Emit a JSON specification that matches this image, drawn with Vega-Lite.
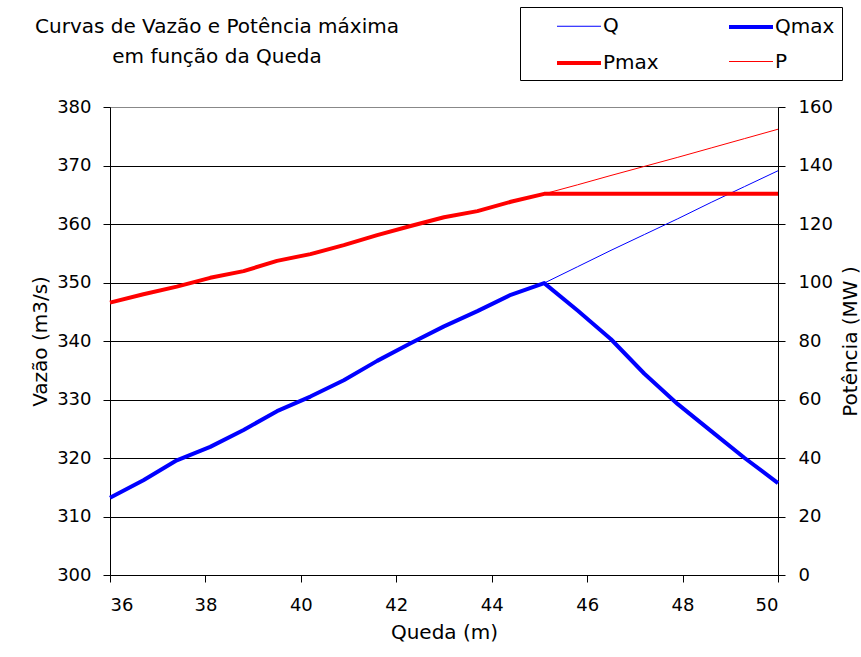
{
  "$schema": "https://vega.github.io/schema/vega-lite/v6.json",
  "width": 668,
  "height": 468,
  "autosize": {"type": "none"},
  "padding": {"left": 110, "top": 107, "right": 83, "bottom": 82},
  "background": "white",
  "config": {
    "font": "DejaVu Sans",
    "view": {"stroke": "#888888", "strokeWidth": 1},
    "axis": {
      "labelFont": "DejaVu Sans", "labelFontSize": 18, "labelColor": "black",
      "titleFont": "DejaVu Sans", "titleFontSize": 20, "titleFontWeight": "normal", "titleColor": "black",
      "domainColor": "black", "tickColor": "black", "tickSize": 7
    },
    "legend": {
      "labelFont": "DejaVu Sans", "labelFontSize": 20, "labelColor": "black"
    }
  },
  "title": {
    "text": ["Curvas de Vazão e Potência máxima", "em função da Queda"],
    "anchor": "start", "frame": "group", "align": "center", "dx": 107, "dy": 60,
    "font": "DejaVu Sans", "fontSize": 20, "fontWeight": "normal", "color": "black",
    "lineHeight": 30, "offset": 0
  },
  "data": {"values": [
    {"x": 36.0, "s": "Qmax", "v": 313.2}, {"x": 36.7, "s": "Qmax", "v": 316.2}, {"x": 37.4, "s": "Qmax", "v": 319.6},
    {"x": 38.1, "s": "Qmax", "v": 321.9}, {"x": 38.8, "s": "Qmax", "v": 324.8}, {"x": 39.5, "s": "Qmax", "v": 328.0},
    {"x": 40.2, "s": "Qmax", "v": 330.5}, {"x": 40.9, "s": "Qmax", "v": 333.3}, {"x": 41.6, "s": "Qmax", "v": 336.6},
    {"x": 42.3, "s": "Qmax", "v": 339.6}, {"x": 43.0, "s": "Qmax", "v": 342.5}, {"x": 43.7, "s": "Qmax", "v": 345.1},
    {"x": 44.4, "s": "Qmax", "v": 347.9}, {"x": 45.1, "s": "Qmax", "v": 349.9}, {"x": 45.8, "s": "Qmax", "v": 345.2},
    {"x": 46.5, "s": "Qmax", "v": 340.3}, {"x": 47.2, "s": "Qmax", "v": 334.4}, {"x": 47.9, "s": "Qmax", "v": 329.2},
    {"x": 48.6, "s": "Qmax", "v": 324.6}, {"x": 49.3, "s": "Qmax", "v": 320.0}, {"x": 50.0, "s": "Qmax", "v": 315.7},

    {"x": 36.0, "s": "Q", "v": 313.2}, {"x": 36.7, "s": "Q", "v": 316.2}, {"x": 37.4, "s": "Q", "v": 319.6},
    {"x": 38.1, "s": "Q", "v": 321.9}, {"x": 38.8, "s": "Q", "v": 324.8}, {"x": 39.5, "s": "Q", "v": 328.0},
    {"x": 40.2, "s": "Q", "v": 330.5}, {"x": 40.9, "s": "Q", "v": 333.3}, {"x": 41.6, "s": "Q", "v": 336.6},
    {"x": 42.3, "s": "Q", "v": 339.6}, {"x": 43.0, "s": "Q", "v": 342.5}, {"x": 43.7, "s": "Q", "v": 345.1},
    {"x": 44.4, "s": "Q", "v": 347.9}, {"x": 45.1, "s": "Q", "v": 349.9}, {"x": 45.8, "s": "Q", "v": 352.7},
    {"x": 46.5, "s": "Q", "v": 355.5}, {"x": 47.2, "s": "Q", "v": 358.2}, {"x": 47.9, "s": "Q", "v": 360.9},
    {"x": 48.6, "s": "Q", "v": 363.7}, {"x": 49.3, "s": "Q", "v": 366.4}, {"x": 50.0, "s": "Q", "v": 369.1},

    {"x": 36.0, "s": "Pmax", "v": 93.1}, {"x": 36.7, "s": "Pmax", "v": 96.0}, {"x": 37.4, "s": "Pmax", "v": 98.6},
    {"x": 38.1, "s": "Pmax", "v": 101.6}, {"x": 38.8, "s": "Pmax", "v": 103.9}, {"x": 39.5, "s": "Pmax", "v": 107.4},
    {"x": 40.2, "s": "Pmax", "v": 109.7}, {"x": 40.9, "s": "Pmax", "v": 112.8}, {"x": 41.6, "s": "Pmax", "v": 116.2},
    {"x": 42.3, "s": "Pmax", "v": 119.3}, {"x": 43.0, "s": "Pmax", "v": 122.3}, {"x": 43.7, "s": "Pmax", "v": 124.4},
    {"x": 44.4, "s": "Pmax", "v": 127.6}, {"x": 45.1, "s": "Pmax", "v": 130.3}, {"x": 45.8, "s": "Pmax", "v": 130.3},
    {"x": 46.5, "s": "Pmax", "v": 130.3}, {"x": 47.2, "s": "Pmax", "v": 130.3}, {"x": 47.9, "s": "Pmax", "v": 130.3},
    {"x": 48.6, "s": "Pmax", "v": 130.3}, {"x": 49.3, "s": "Pmax", "v": 130.3}, {"x": 50.0, "s": "Pmax", "v": 130.3},

    {"x": 36.0, "s": "P", "v": 93.1}, {"x": 36.7, "s": "P", "v": 96.0}, {"x": 37.4, "s": "P", "v": 98.6},
    {"x": 38.1, "s": "P", "v": 101.6}, {"x": 38.8, "s": "P", "v": 103.9}, {"x": 39.5, "s": "P", "v": 107.4},
    {"x": 40.2, "s": "P", "v": 109.7}, {"x": 40.9, "s": "P", "v": 112.8}, {"x": 41.6, "s": "P", "v": 116.2},
    {"x": 42.3, "s": "P", "v": 119.3}, {"x": 43.0, "s": "P", "v": 122.3}, {"x": 43.7, "s": "P", "v": 124.4},
    {"x": 44.4, "s": "P", "v": 127.6}, {"x": 45.1, "s": "P", "v": 130.3}, {"x": 45.8, "s": "P", "v": 133.4},
    {"x": 46.5, "s": "P", "v": 136.6}, {"x": 47.2, "s": "P", "v": 139.7}, {"x": 47.9, "s": "P", "v": 142.8},
    {"x": 48.6, "s": "P", "v": 146.0}, {"x": 49.3, "s": "P", "v": 149.2}, {"x": 50.0, "s": "P", "v": 152.4}
  ]},
  "encoding": {
    "x": {
      "field": "x", "type": "quantitative",
      "scale": {"domain": [36, 50], "nice": false, "zero": false},
      "axis": {"values": [36, 38, 40, 42, 44, 46, 48, 50], "grid": false, "title": "Queda (m)",
               "labelPadding": 14, "titlePadding": 8}
    },
    "color": {
      "field": "s", "type": "nominal",
      "scale": {"domain": ["Q", "Pmax", "Qmax", "P"], "range": ["#0000ff", "#ff0000", "#0000ff", "#ff0000"]},
      "legend": {
        "title": null, "orient": "none", "legendX": 410, "legendY": -100,
        "columns": 2, "columnPadding": 40, "rowPadding": 13,
        "symbolType": "M-2,0H2", "symbolSize": 484, "symbolOffset": 39, "labelOffset": 11,
        "strokeColor": "black", "fillColor": "white", "padding": 7
      }
    },
    "strokeWidth": {
      "field": "s", "type": "nominal",
      "scale": {"type": "ordinal", "domain": ["Q", "Pmax", "Qmax", "P"], "range": [1, 4, 4, 1]},
      "legend": {
        "title": null, "orient": "none", "legendX": 410, "legendY": -100,
        "columns": 2, "columnPadding": 40, "rowPadding": 13,
        "symbolType": "M-2,0H2", "symbolSize": 484, "symbolOffset": 39, "labelOffset": 11,
        "strokeColor": "black", "fillColor": "white", "padding": 7
      }
    }
  },
  "layer": [
    {
      "transform": [{"filter": "datum.s === 'Qmax' || datum.s === 'Q'"}],
      "mark": {"type": "line", "strokeJoin": "round"},
      "encoding": {
        "y": {
          "field": "v", "type": "quantitative",
          "scale": {"domain": [300, 380], "nice": false, "zero": false},
          "axis": {
            "orient": "left", "values": [300, 310, 320, 330, 340, 350, 360, 370, 380],
            "title": "Vazão (m3/s)", "labelPadding": 12, "titlePadding": 6,
            "grid": true, "gridWidth": 1, "gridOpacity": 1,
            "gridColor": {"condition": {"test": "datum.value === 380", "value": "#888888"}, "value": "black"}
          }
        }
      }
    },
    {
      "transform": [{"filter": "datum.s === 'Pmax' || datum.s === 'P'"}],
      "mark": {"type": "line", "strokeJoin": "round"},
      "encoding": {
        "y": {
          "field": "v", "type": "quantitative",
          "scale": {"domain": [0, 160], "nice": false, "zero": false},
          "axis": {
            "orient": "right", "values": [0, 20, 40, 60, 80, 100, 120, 140, 160],
            "title": "Potência (MW )", "titleAngle": -90, "titleBaseline": "bottom",
            "labelPadding": 13, "titlePadding": 28,
            "grid": false
          }
        }
      }
    }
  ],
  "resolve": {"scale": {"y": "independent"}}
}
